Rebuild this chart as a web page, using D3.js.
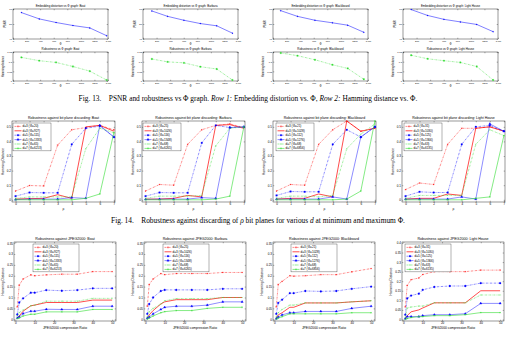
<!DOCTYPE html>
<meta charset="utf-8">
<style>
body { margin: 0; background: #fff; }
svg { display: block; }
</style>
<body>
<script src="https://d3js.org/d3.v7.min.js"></script>
<script>
// ---- data ----
var images = ["Boat", "Barbara", "Blackboard", "Light House"];

// Fig 13
var phiTicks = [0, 200, 400, 600, 800, 1000, 1200, 1400];
var psnrTicks = [40, 50, 60];
var hamTicks = [0, 0.05, 0.1, 0.15];
var phiVals = [
  [124, 387, 635, 883, 1131, 1380],
  [130, 362, 603, 845, 1086, 1318],
  [113, 360, 618, 875, 1101, 1338],
  [121, 362, 603, 845, 1086, 1328]
];
var psnrVals = [
  [57.6, 53.4, 51.0, 49.0, 47.4, 42.2],
  [58.7, 55.1, 52.5, 50.3, 48.8, 43.9],
  [58.9, 55.1, 52.5, 50.8, 49.2, 44.5],
  [59.6, 55.7, 53.1, 51.4, 49.7, 44.9]
];
var hamVals = [
  [0.122, 0.105, 0.096, 0.075, 0.051, 0.005],
  [0.114, 0.099, 0.094, 0.074, 0.062, 0.005],
  [0.145, 0.131, 0.110, 0.084, 0.065, 0.009],
  [0.133, 0.115, 0.105, 0.096, 0.075, 0.005]
];

// Fig 14
var rho = [0, 1, 2, 3, 4, 5, 6, 7];
var bitTicks = [0, 0.1, 0.2, 0.3, 0.4, 0.5];
var bitBoat = [
  [0.06, 0.098, 0.095, 0.375, 0.48, 0.495, 0.51, 0.48],
  [0.005, 0.008, 0.01, 0.035, 0.01, 0.50, 0.51, 0.47],
  [0.025, 0.05, 0.048, 0.048, 0.38, 0.49, 0.505, 0.43],
  [0.002, 0.005, 0.005, 0.005, 0.015, 0.01, 0.51, 0.43],
  [0.01, 0.02, 0.02, 0.02, 0.02, 0.35, 0.49, 0.46],
  [0, 0, 0, 0, 0, 0.01, 0.04, 0.46]
];
var bitBarbara = [
  [0.06, 0.105, 0.10, 0.38, 0.48, 0.51, 0.52, 0.495],
  [0.005, 0.005, 0.01, 0.03, 0.02, 0.51, 0.515, 0.49],
  [0.025, 0.05, 0.048, 0.048, 0.39, 0.51, 0.495, 0.50],
  [0.003, 0.005, 0.005, 0.005, 0.015, 0.01, 0.495, 0.50],
  [0.01, 0.025, 0.025, 0.025, 0.03, 0.37, 0.49, 0.50],
  [0, 0, 0, 0, 0, 0.005, 0.025, 0.50]
];
var bitBlackboard = [
  [0.06, 0.105, 0.10, 0.38, 0.48, 0.54, 0.47, 0.49],
  [0.005, 0.01, 0.01, 0.04, 0.02, 0.54, 0.47, 0.49],
  [0.03, 0.057, 0.055, 0.055, 0.38, 0.48, 0.43, 0.50],
  [0.005, 0.005, 0.005, 0.005, 0.02, 0.005, 0.43, 0.50],
  [0.01, 0.025, 0.025, 0.02, 0.03, 0.35, 0.45, 0.52],
  [0, 0, 0, 0, 0, 0.005, 0.06, 0.54]
];
var bitLight = [
  [0.07, 0.115, 0.105, 0.38, 0.49, 0.49, 0.50, 0.47],
  [0.005, 0.01, 0.01, 0.04, 0.03, 0.49, 0.50, 0.47],
  [0.025, 0.055, 0.05, 0.05, 0.38, 0.50, 0.51, 0.47],
  [0.005, 0.005, 0.005, 0.005, 0.02, 0.005, 0.52, 0.47],
  [0.01, 0.03, 0.03, 0.03, 0.03, 0.38, 0.48, 0.44],
  [0, 0, 0, 0, 0, 0.01, 0.02, 0.44]
];

// Fig 15
var jpegRatio = [1, 2, 4, 8, 10, 16, 24, 32, 40, 50];
var jpegXTicks = [0, 10, 20, 30, 40, 50];
var jpegTicks = [0, 0.05, 0.1, 0.15, 0.2, 0.25, 0.3, 0.35];
var jpegTicksLight = [0, 0.05, 0.1, 0.15, 0.2, 0.25, 0.3, 0.35, 0.4];
var jpegBoat = [
  [0.057, 0.157, 0.185, 0.204, 0.20, 0.204, 0.207, 0.207, 0.219, 0.219],
  [0.006, 0.015, 0.037, 0.062, 0.065, 0.077, 0.077, 0.077, 0.088, 0.088],
  [0.022, 0.077, 0.096, 0.122, 0.122, 0.134, 0.131, 0.134, 0.142, 0.142],
  [0.006, 0.011, 0.026, 0.037, 0.037, 0.046, 0.045, 0.045, 0.06, 0.06],
  [0.015, 0.031, 0.042, 0.062, 0.065, 0.083, 0.083, 0.083, 0.096, 0.096],
  [0.003, 0.006, 0.015, 0.023, 0.023, 0.034, 0.034, 0.034, 0.045, 0.045]
];
var jpegBarbara = [
  [0.06, 0.16, 0.185, 0.21, 0.205, 0.21, 0.21, 0.21, 0.215, 0.215],
  [0.005, 0.02, 0.04, 0.07, 0.08, 0.09, 0.09, 0.09, 0.10, 0.10],
  [0.025, 0.07, 0.10, 0.13, 0.135, 0.135, 0.135, 0.135, 0.14, 0.14],
  [0.005, 0.01, 0.025, 0.045, 0.055, 0.06, 0.06, 0.065, 0.08, 0.08],
  [0.01, 0.035, 0.05, 0.07, 0.085, 0.095, 0.095, 0.095, 0.10, 0.10],
  [0, 0.005, 0.015, 0.03, 0.035, 0.04, 0.04, 0.05, 0.055, 0.055]
];
var jpegBlackboard = [
  [0.057, 0.16, 0.174, 0.20, 0.198, 0.20, 0.205, 0.205, 0.218, 0.233],
  [0.005, 0.02, 0.03, 0.055, 0.055, 0.075, 0.075, 0.075, 0.08, 0.085],
  [0.025, 0.075, 0.09, 0.12, 0.12, 0.13, 0.128, 0.13, 0.14, 0.15],
  [0.003, 0.01, 0.02, 0.03, 0.03, 0.036, 0.036, 0.036, 0.05, 0.06],
  [0.01, 0.03, 0.045, 0.065, 0.065, 0.075, 0.075, 0.075, 0.08, 0.085],
  [0, 0.005, 0.012, 0.025, 0.025, 0.025, 0.025, 0.025, 0.03, 0.03]
];
var jpegLight = [
  [0.066, 0.178, 0.208, 0.217, 0.235, 0.25, 0.25, 0.25, 0.258, 0.258],
  [0.005, 0.02, 0.04, 0.05, 0.06, 0.087, 0.087, 0.087, 0.15, 0.15],
  [0.025, 0.11, 0.125, 0.135, 0.155, 0.17, 0.175, 0.175, 0.19, 0.19],
  [0.005, 0.015, 0.015, 0.015, 0.02, 0.025, 0.025, 0.03, 0.084, 0.084],
  [0.01, 0.06, 0.065, 0.07, 0.07, 0.087, 0.087, 0.087, 0.128, 0.128],
  [0, 0.005, 0.01, 0.015, 0.015, 0.02, 0.02, 0.025, 0.036, 0.036]
];

var legendBoat = ["d=3 (\u03A6=20)", "d=3 (\u03A6=927)", "d=5 (\u03A6=115)", "d=5 (\u03A6=1333)", "d=7 (\u03A6=65)", "d=7 (\u03A6=6213)"];
var legendBarbara = ["d=3 (\u03A6=25)", "d=3 (\u03A6=1026)", "d=5 (\u03A6=116)", "d=5 (\u03A6=1348)", "d=7 (\u03A6=68)", "d=7 (\u03A6=6265)"];
var legendBlackboard = ["d=3 (\u03A6=21)", "d=3 (\u03A6=1028)", "d=5 (\u03A6=112)", "d=5 (\u03A6=1276)", "d=7 (\u03A6=68)", "d=7 (\u03A6=6856)"];
var legendLight = ["d=3 (\u03A6=31)", "d=3 (\u03A6=1030)", "d=5 (\u03A6=125)", "d=5 (\u03A6=1366)", "d=7 (\u03A6=63)", "d=7 (\u03A6=6135)"];

var bitData = [bitBoat, bitBarbara, bitBlackboard, bitLight];
var jpegData = [jpegBoat, jpegBarbara, jpegBlackboard, jpegLight];
var legends = [legendBoat, legendBarbara, legendBlackboard, legendLight];

// ---- drawing ----
var sans = "'Liberation Sans', Arial, sans-serif";
var serif = "'Liberation Serif', 'Times New Roman', serif";
var RED = "#ff0000", BLUE = "#0000ff", GREEN = "#33dd33";

var svg = d3.select("body").append("svg").attr("width", 511).attr("height", 338);

// custom marker shapes (stroked)
var asterisk = { draw: function(c, s) { var r = Math.sqrt(s) / 2;
  c.moveTo(-r, 0); c.lineTo(r, 0); c.moveTo(0, -r); c.lineTo(0, r);
  c.moveTo(-r * .7, -r * .7); c.lineTo(r * .7, r * .7); c.moveTo(-r * .7, r * .7); c.lineTo(r * .7, -r * .7); } };
var cross = { draw: function(c, s) { var r = Math.sqrt(s) / 2 * .8;
  c.moveTo(-r, -r); c.lineTo(r, r); c.moveTo(-r, r); c.lineTo(r, -r); } };

function plotFrame(o) {
  var g = svg.append("g").attr("transform", "translate(" + o.x0 + "," + o.y0 + ")");
  var x = d3.scaleLinear().domain(o.xDom).range([0, o.w]);
  var y = d3.scaleLinear().domain(o.yDom).range([o.h, 0]);
  var fmt = function(d) { return String(d); };
  var axes = [
    [d3.axisBottom(x).tickValues(o.xTicks).tickFormat(fmt), "translate(0," + o.h + ")"],
    [d3.axisTop(x).tickValues(o.xTicks).tickFormat(""), null],
    [d3.axisLeft(y).tickValues(o.yTicks).tickFormat(fmt), null],
    [d3.axisRight(y).tickValues(o.yTicks).tickFormat(""), "translate(" + o.w + ",0)"]
  ];
  axes.forEach(function(a) {
    var ag = g.append("g").call(a[0].tickSizeInner(-1.3).tickSizeOuter(0).tickPadding(1));
    if (a[1]) ag.attr("transform", a[1]);
    ag.select(".domain").remove();
    ag.selectAll("line").attr("stroke", "#000").attr("stroke-width", 0.3);
    ag.selectAll("text").attr("font-size", o.fs).attr("font-family", sans).attr("fill", "#000");
  });
  g.append("rect").attr("width", o.w).attr("height", o.h)
    .attr("fill", "none").attr("stroke", "#000").attr("stroke-width", 0.4);
  g.append("text").attr("x", o.w / 2).attr("y", -1.6).attr("text-anchor", "middle")
    .attr("font-size", o.tfs).attr("font-family", sans).text(o.title);
  g.append("text").attr("x", o.w / 2).attr("y", o.h + o.xlOff).attr("text-anchor", "middle")
    .attr("font-size", o.lfs).attr("font-family", sans).text(o.xLabel);
  g.append("text").attr("transform", "translate(" + (-o.ylOff) + "," + (o.h / 2) + ") rotate(-90)")
    .attr("text-anchor", "middle").attr("font-size", o.lfs).attr("font-family", sans).text(o.yLabel);
  return { g: g, x: x, y: y };
}

function drawMarker(sel, type, col, size) {
  var filled = (type === d3.symbolSquare || type === d3.symbolCircle || type === d3.symbolTriangle);
  sel.attr("d", d3.symbol().type(type).size(size))
    .attr("fill", filled ? col : "none").attr("stroke", col).attr("stroke-width", 0.3);
}

function drawSeries(p, xs, ys, st) {
  var line = d3.line().x(function(d, i) { return p.x(xs[i]); }).y(function(d) { return p.y(d); });
  p.g.append("path").datum(ys).attr("d", line).attr("fill", "none")
    .attr("stroke", st.c).attr("stroke-width", st.w || 0.45)
    .attr("stroke-dasharray", st.dash || null);
  if (st.m) {
    p.g.selectAll(null).data(ys).enter().append("path")
      .attr("transform", function(d, i) { return "translate(" + p.x(xs[i]) + "," + p.y(d) + ")"; })
      .call(drawMarker, st.m, st.c, st.ms || 2.5);
  }
}

function drawLegend(p, lx, ly, lw, labels, styles, fs) {
  var rh = 4.4;
  var lg = p.g.append("g").attr("transform", "translate(" + lx + "," + ly + ")");
  lg.append("rect").attr("width", lw).attr("height", rh * labels.length + 1.5)
    .attr("fill", "#fff").attr("stroke", "#000").attr("stroke-width", 0.3);
  labels.forEach(function(t, i) {
    var st = styles[i], cy = 1.2 + rh * (i + 0.5);
    lg.append("line").attr("x1", 1.5).attr("x2", 8.5).attr("y1", cy).attr("y2", cy)
      .attr("stroke", st.c).attr("stroke-width", st.w || 0.45).attr("stroke-dasharray", st.dash || null);
    if (st.m) lg.append("path").attr("transform", "translate(5," + cy + ")").call(drawMarker, st.m, st.c, st.ms || 2.5);
    lg.append("text").attr("x", 9.5).attr("y", cy).attr("dy", "0.35em")
      .attr("font-size", fs).attr("font-family", sans).text(t);
  });
}

var dashDot = "2,0.8,0.5,0.8";
var bitStyles = [
  { c: RED, dash: dashDot, m: asterisk },
  { c: RED, w: 0.7 },
  { c: BLUE, dash: dashDot, m: d3.symbolSquare, ms: 2.2 },
  { c: BLUE, m: d3.symbolTriangle, ms: 2.2 },
  { c: GREEN, dash: dashDot, m: cross },
  { c: GREEN, w: 0.6, m: asterisk }
];
var jpegStyles = bitStyles.map(function(s, i) {
  return i === 2 ? { c: BLUE, dash: dashDot, m: d3.symbolCircle, ms: 2.6 } : s;
});

// Fig 13 rows
var row1Left = [13, 143, 273, 403];
images.forEach(function(name, k) {
  var top = plotFrame({ x0: row1Left[k], y0: 9, w: 95, h: 30, xDom: [0, 1400], yDom: [40, 60],
    xTicks: phiTicks, yTicks: psnrTicks, fs: 2.4, tfs: 2.9, lfs: 2.6, xlOff: 6, ylOff: 7.5,
    title: "Embedding distortion vs \u03A6 graph: " + name, xLabel: "\u03A6", yLabel: "PSNR" });
  drawSeries(top, phiVals[k], psnrVals[k], { c: BLUE, m: d3.symbolCircle, ms: 0.8, w: 0.5 });
  var bot = plotFrame({ x0: row1Left[k], y0: 52, w: 95, h: 29, xDom: [0, 1400], yDom: [0, 0.15],
    xTicks: phiTicks, yTicks: hamTicks, fs: 2.4, tfs: 2.9, lfs: 2.6, xlOff: 6, ylOff: 9,
    title: "Robustness vs \u03A6 graph: " + name, xLabel: "\u03A6", yLabel: "Hamming distance" });
  drawSeries(bot, phiVals[k], hamVals[k], { c: GREEN, dash: dashDot, m: d3.symbolSquare, ms: 1.8, w: 0.45 });
});

// Fig 14 row
var row2Left = [12, 142, 273, 402];
var leg2X = [1, 1, 3, 2];
images.forEach(function(name, k) {
  var p = plotFrame({ x0: row2Left[k], y0: 121, w: 103, h: 81, xDom: [-0.25, 7.08], yDom: [-0.015, 0.54],
    xTicks: rho, yTicks: bitTicks, fs: 3, tfs: 3.5, lfs: 3.2, xlOff: 7.5, ylOff: 8,
    title: "Robustness against bit plane discarding: " + name, xLabel: "\u03C1", yLabel: "Hamming Distance" });
  bitData[k].forEach(function(ys, i) { drawSeries(p, rho, ys, bitStyles[i]); });
  drawLegend(p, leg2X[k], 2, 38, legends[k], bitStyles, 3.1);
});

// Fig 15 row
var row3Left = [14, 144, 273, 402];
var leg3X = [19, 19, 18, 3];
images.forEach(function(name, k) {
  var light = k === 3;
  var p = plotFrame({ x0: row3Left[k], y0: 242, w: 102, h: 79, xDom: [-0.7, 52],
    yDom: light ? [-0.008, 0.405] : [-0.008, 0.355],
    xTicks: jpegXTicks, yTicks: light ? jpegTicksLight : jpegTicks, fs: 3, tfs: 3.6, lfs: 3.3, xlOff: 8, ylOff: 10,
    title: "Robustness against JPEG2000: " + name, xLabel: "JPEG2000 compression Ratio", yLabel: "Hamming Distance" });
  jpegData[k].forEach(function(ys, i) { drawSeries(p, jpegRatio, ys, jpegStyles[i]); });
  drawLegend(p, leg3X[k], 2, 46, legends[k], jpegStyles, 3.1);
});

// captions
var cap13 = svg.append("text").attr("x", 248).attr("y", 101).attr("text-anchor", "middle")
  .attr("font-size", 7.4).attr("font-family", serif);
cap13.append("tspan").text("Fig. 13.\u2003PSNR and robustness vs \u03A6 graph. ");
cap13.append("tspan").attr("font-style", "italic").text("Row 1:");
cap13.append("tspan").text(" Embedding distortion vs. \u03A6, ");
cap13.append("tspan").attr("font-style", "italic").text("Row 2:");
cap13.append("tspan").text(" Hamming distance vs. \u03A6.");

var cap14 = svg.append("text").attr("x", 258).attr("y", 223).attr("text-anchor", "middle")
  .attr("font-size", 7.4).attr("font-family", serif);
cap14.append("tspan").text("Fig. 14.\u2003Robustness against discarding of ");
cap14.append("tspan").attr("font-style", "italic").text("\u03C1");
cap14.append("tspan").text(" bit planes for various ");
cap14.append("tspan").attr("font-style", "italic").text("d");
cap14.append("tspan").text(" at minimum and maximum \u03A6.");
</script>
</body>
